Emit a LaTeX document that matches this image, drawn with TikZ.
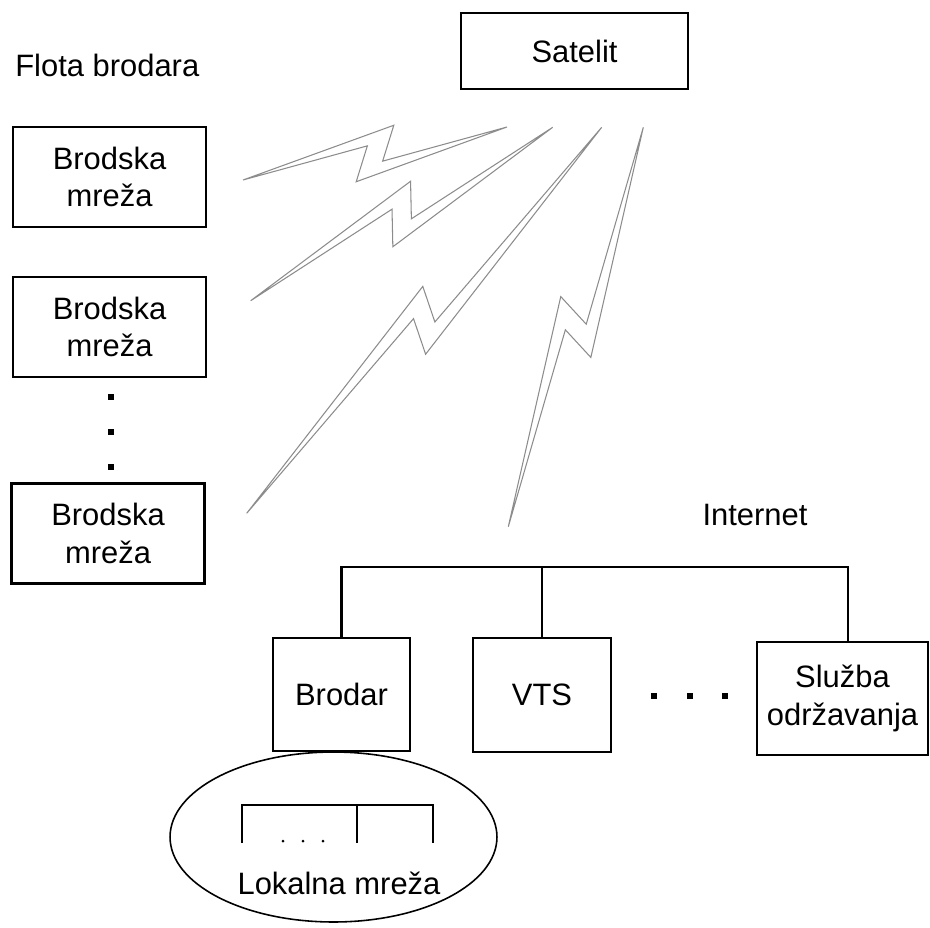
\documentclass[tikz,border=0pt]{standalone}
\usepackage{fontspec}
\setmainfont{Liberation Sans}
\usetikzlibrary{calc,shapes.geometric}

\begin{document}
\begin{tikzpicture}[x=0.02cm, y=-0.02cm,
    font=\fontsize{17.6}{21.5}\selectfont,
    box/.style={draw, line width=1.4pt, inner sep=0pt, align=center},
    wire/.style={line width=1.4pt},
    bolt/.style={draw=black!45, line width=0.6pt},
    dot/.style={fill, inner sep=0pt, minimum size=0.12cm}]
  \useasboundingbox (0,0) rectangle (930,927);

  % Fleet of ships
  \node[anchor=base west, inner sep=0pt] (fleet) at (15,76) {Flota brodara};
  \node[box, minimum width=3.86cm, minimum height=2cm] (ship1) at (109.5,177) {Brodska\\mreža};
  \node[box, minimum width=3.86cm, minimum height=2cm] (ship2) at (109.5,327) {Brodska\\mreža};
  \node[box, minimum width=3.86cm, minimum height=2cm] (ship3) at (108,533.5) {Brodska\\mreža};
  \node[dot] (sd1) at (111,397) {};
  \node[dot] (sd2) at (111,432) {};
  \node[dot] (sd3) at (111,467) {};

  % Satellite
  \node[box, minimum width=4.54cm, minimum height=1.52cm] (sat) at (574.5,51) {Satelit};

  % Radio links (zig-zag bolts)
  \foreach \sx/\sy/\ex/\ey in {243/180/507/127, 250.7/300.7/552.7/127.3,
                               246.7/513.3/601.7/127.3, 508.3/526.7/643.3/127.3} {
    \coordinate (s) at (\sx,\sy);
    \coordinate (e) at (\ex,\ey);
    \coordinate (m) at ($(s)!0.5!(e)$);
    \draw[bolt] (s) -- ($(m)!0.48cm!(e)!0.48cm!90:(e)$)
      -- ($(m)!0.12cm!(e)!0.18cm!-90:(e)$)
      -- (e)
      -- ($(m)!-0.48cm!(e)!0.48cm!-90:(e)$)
      -- ($(m)!-0.12cm!(e)!0.18cm!90:(e)$) -- cycle;
  }

  % Internet side
  \node (inet) at (755,515) {Internet};
  \node[box, minimum width=2.74cm, minimum height=2.26cm] (brodar) at (341.5,694.5) {Brodar};
  \node[box, minimum width=2.76cm, minimum height=2.28cm] (vts) at (542,695) {VTS};
  \node[box, minimum width=3.42cm, minimum height=2.26cm] (sluzba) at (842.5,698.5) {Služba\\održavanja};
  \node[dot] (od1) at (654,696) {};
  \node[dot] (od2) at (690,696) {};
  \node[dot] (od3) at (725,696) {};

  \coordinate (bus) at (848,567);
  \draw[wire] (brodar.north) |- (bus) -- (bus |- sluzba.north);
  \draw[wire] (vts.north) -- (vts.north |- bus);

  % Local network of the shipowner
  \node[draw, ellipse, line width=0.9pt, inner sep=0pt,
        minimum width=6.54cm, minimum height=3.4cm] (lan) at (333.5,837) {};
  \node (lantext) at (339,883) {Lokalna mreža};
  \draw[wire] (242,843) -- (242,805) -- (433,805) -- (433,843);
  \draw[wire] (357,805) -- (357,843);
  \fill (283,841) circle (0.03cm);
  \fill (303,841) circle (0.03cm);
  \fill (323,841) circle (0.03cm);
\end{tikzpicture}
\end{document}
